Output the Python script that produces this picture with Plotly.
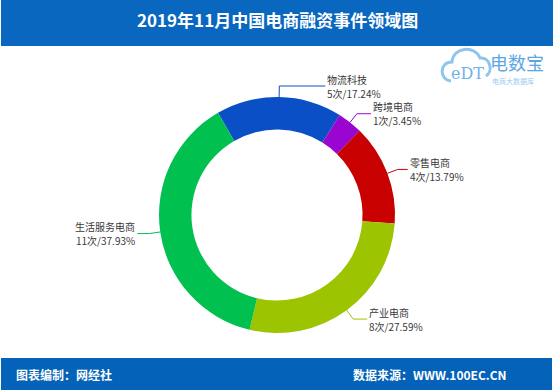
import math
import plotly.graph_objects as go

# ---- data ----
categories = ["物流科技", "跨境电商", "零售电商", "产业电商", "生活服务电商"]
counts = [5, 1, 4, 8, 11]
percents = ["17.24%", "3.45%", "13.79%", "27.59%", "37.93%"]
title_text = "2019年11月中国电商融资事件领域图"
footer_left = "图表编制：网经社"
footer_right = "数据来源：WWW.100EC.CN"

# ---- style / layout ----
colors = ["#0b4fc6", "#9a05d0", "#c80000", "#9dc400", "#00c150"]
W, H = 553, 392
CX, CY, R = 277, 215, 118
HOLE = 0.725
ROTATION = -30
LEN1 = 11
LEN2 = [46, 14, 10, 14, 12]
BAR = "#0a67bf"
LINE_GAP = 7


def px(x):
    return x / W


def py(y):
    return 1 - y / H


fig = go.Figure()
fig.add_trace(go.Pie(
    labels=categories, values=counts, sort=False, direction="clockwise",
    rotation=ROTATION, hole=HOLE, textinfo="none",
    marker=dict(colors=colors, line=dict(width=0)),
    domain=dict(x=[px(CX - R), px(CX + R)], y=[py(CY + R), py(CY - R)]),
    showlegend=False, hoverinfo="label+value+percent",
))

shapes = []
annotations = []

# header & footer bars
shapes.append(dict(type="rect", xref="paper", yref="paper", x0=px(1), x1=1, y0=py(46), y1=1,
                   fillcolor=BAR, line=dict(width=0), layer="below"))
shapes.append(dict(type="rect", xref="paper", yref="paper", x0=px(1), x1=px(552), y0=py(390), y1=py(358),
                   fillcolor="#0462b8", line=dict(width=0), layer="below"))

annotations.append(dict(x=px(CX), y=py(20), xref="paper", yref="paper", text="<b>" + title_text + "</b>",
                        showarrow=False, font=dict(size=17, color="white", family="Noto Sans CJK SC"),
                        xanchor="center", yanchor="middle"))
annotations.append(dict(x=px(14), y=py(374), xref="paper", yref="paper", text="<b>" + footer_left + "</b>",
                        showarrow=False, font=dict(size=12, color="white", family="Noto Sans CJK SC"),
                        xanchor="left", yanchor="middle"))
annotations.append(dict(x=px(509), y=py(374), xref="paper", yref="paper", text="<b>" + footer_right + "</b>",
                        showarrow=False, font=dict(size=12, color="white", family="Noto Sans CJK SC"),
                        xanchor="right", yanchor="middle"))

# leader lines & labels computed from slice angles
total = sum(counts)
start = ROTATION
for i, (cat, v, pct) in enumerate(zip(categories, counts, percents)):
    span = 360 * v / total
    mid = math.radians(start + span / 2)
    start += span
    sx, sy = CX + R * math.sin(mid), CY - R * math.cos(mid)
    ex, ey = CX + (R + LEN1) * math.sin(mid), CY - (R + LEN1) * math.cos(mid)
    right = math.sin(mid) >= 0
    hx = ex + LEN2[i] if right else ex - LEN2[i]
    path = f"M {px(sx)},{py(sy)} L {px(ex)},{py(ey)} L {px(hx)},{py(ey)}"
    shapes.append(dict(type="path", xref="paper", yref="paper", path=path,
                       line=dict(color=colors[i], width=1)))
    for k, line_text in enumerate([cat, f"{v}次/{pct}"]):
        annotations.append(dict(
            x=px(hx + (1 if right else -1)), y=py(ey + (k * 2 - 1) * LINE_GAP),
            xref="paper", yref="paper", text=line_text, showarrow=False, borderpad=0,
            xanchor="left" if right else "right", yanchor="middle",
            font=dict(size=10, color="#383838", family="Noto Sans CJK SC")))

# logo (decorative)
cloud = (f"M {px(451)},{py(81)} C {px(439)},{py(80)} {px(439)},{py(62)} {px(452)},{py(62)} "
         f"C {px(453)},{py(47)} {px(475)},{py(45)} {px(480)},{py(58)} "
         f"C {px(491)},{py(57)} {px(493)},{py(72)} {px(486)},{py(76)}")
shapes.append(dict(type="path", xref="paper", yref="paper", path=cloud,
                   line=dict(color="#8ec5ee", width=3)))
annotations.append(dict(x=px(467), y=py(74), xref="paper", yref="paper", text="eDT", borderpad=0,
                        showarrow=False, font=dict(size=16, color="#6fb2e6", family="DejaVu Serif"),
                        xanchor="center", yanchor="middle"))
annotations.append(dict(x=px(489), y=py(62), xref="paper", yref="paper", text="电数宝", borderpad=0,
                        showarrow=False, font=dict(size=18, color="#5aa6e3", family="Noto Sans CJK SC"),
                        xanchor="left", yanchor="middle"))
annotations.append(dict(x=px(491), y=py(81), xref="paper", yref="paper", text="电商大数据库", borderpad=0,
                        showarrow=False, font=dict(size=7, color="#9ccbef", family="Noto Sans CJK SC"),
                        xanchor="left", yanchor="middle"))

fig.update_layout(
    width=W, height=H, margin=dict(l=0, r=0, t=0, b=0),
    paper_bgcolor="white", plot_bgcolor="white",
    shapes=shapes, annotations=annotations,
)

fig.write_html("out.html", config={"displayModeBar": False},
               post_script="document.body.style.margin='0';")
